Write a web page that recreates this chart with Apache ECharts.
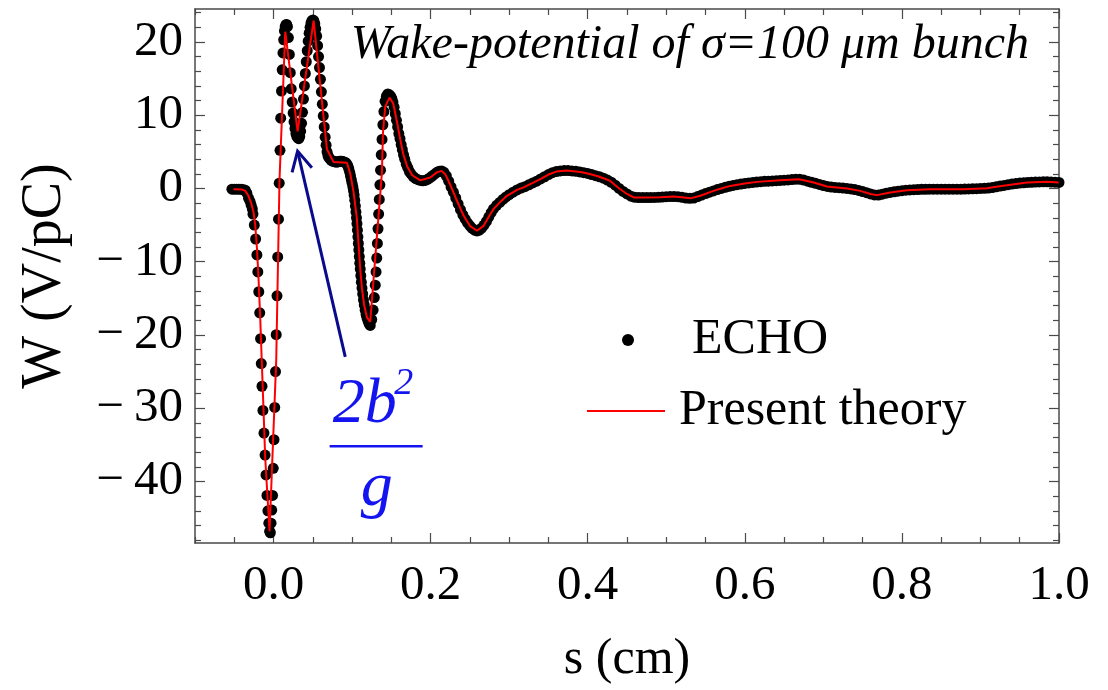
<!DOCTYPE html>
<html>
<head>
<meta charset="utf-8">
<script src="https://cdn.jsdelivr.net/npm/echarts@6/dist/echarts.min.js"></script>
<style>
html,body{margin:0;padding:0;background:#fff;}
#chart{width:1108px;height:690px;}
</style>
</head>
<body>
<div id="chart"></div>
<script>
// ---------- DATA ----------
const xMajorTicks = [0, 0.2, 0.4, 0.6, 0.8, 1.0];
const yMajorTicks = [-40, -30, -20, -10, 0, 10, 20];

// ECHO simulation points [s (cm), W (V/pC)]
const echoDrop = [
  [-0.053,-0.1],[-0.050,-0.1],[-0.047,-0.1],[-0.044,-0.1],[-0.041,-0.12],[-0.038,-0.18],
  [-0.036,-0.23],[-0.034,-0.64],[-0.0318,-1.32],[-0.030,-1.75],[-0.0285,-2.27],[-0.027,-2.8],
  [-0.0262,-3.49],[-0.0245,-4.99],[-0.0228,-6.9],[-0.0212,-9.07],[-0.0200,-11.39],[-0.0188,-14.1],
  [-0.0176,-16.97],[-0.0165,-20.5],[-0.0156,-23.9],[-0.0147,-27.0],[-0.0135,-30.3],[-0.0122,-33.4],
  [-0.0108,-36.4],[-0.0096,-39.1],[-0.0084,-41.9],[-0.0072,-44.0],[-0.0060,-45.7],[-0.0050,-46.8],
  [-0.0041,-47.0]
];
const echoDoublePeak = [
  [-0.0032,-45.7],[-0.0023,-43.9],[-0.0013,-41.9],[-0.0004,-38.2],[0.0006,-34.3],[0.0015,-29.9],
  [0.0025,-25.0],[0.0034,-19.96],[0.0044,-14.65],[0.0053,-9.35],[0.0063,-4.2],[0.0072,0.72],
  [0.0082,5.2],[0.0091,9.6],[0.0101,13.3],[0.0110,16.2],[0.0120,18.5],[0.0129,20.3],[0.0139,21.5],
  [0.0148,22.1],[0.0158,22.35],[0.0167,22.4],
  [0.0177,22.1],[0.0189,20.6],[0.0201,18.3],[0.0213,15.8],[0.0225,13.6],[0.0237,11.8],[0.0249,10.3],
  [0.0261,9.1],[0.0273,8.2],[0.0285,7.5],[0.0297,7.1],[0.0309,6.9],[0.0321,6.8],[0.0333,7.1],
  [0.0345,7.8],[0.0357,8.9],[0.0369,10.4],[0.0381,12.2],[0.0393,14.0],[0.0405,15.7],[0.0417,17.3],
  [0.0429,18.8],[0.0441,20.1],[0.0453,21.2],[0.0465,22.0],[0.0477,22.6],[0.0489,22.9],[0.0501,23.0],
  [0.0513,22.9],[0.0525,22.5],[0.0537,21.8],[0.0549,20.8],[0.0561,19.5],[0.0573,18.0],[0.0585,16.5],
  [0.0597,14.9],[0.0609,13.2],[0.0621,11.5],[0.0633,9.9],[0.0645,8.4],[0.0657,7.0],[0.0669,5.9],
  [0.0681,5.0],[0.0693,4.5],[0.0705,4.2],[0.0720,4.0],[0.0735,3.85],[0.0750,3.75],[0.0765,3.7],
  [0.0780,3.65],[0.0795,3.6],[0.0810,3.6],[0.0825,3.65],[0.0840,3.7],[0.0855,3.7],[0.0870,3.7],
  [0.0885,3.65],[0.0900,3.6],[0.0915,3.55],[0.0930,3.4],[0.0945,3.1],[0.0958,2.7],[0.0970,2.2],
  [0.0980,1.7],[0.0990,1.2],[0.1000,0.7],[0.1010,0.2],[0.1018,-0.3]
];
const echoValley = [
  [0.1026,-0.9],[0.1034,-1.6],[0.1042,-2.4],[0.1049,-3.2],[0.1056,-4.0],[0.1062,-4.8],[0.1068,-5.7],
  [0.1074,-6.6],[0.1080,-7.5],[0.1086,-8.4],[0.1092,-9.3],[0.1098,-10.2],[0.1104,-11.0],[0.1111,-11.9],
  [0.1118,-12.8],[0.1126,-13.6],[0.1135,-14.4],[0.1145,-15.2],[0.1155,-15.9],[0.1166,-16.6],
  [0.1178,-17.2],[0.1190,-17.7],[0.1203,-18.1],[0.1217,-18.5],[0.1231,-18.7],
  [0.1250,-17.9],[0.1268,-16.6],[0.1283,-14.9],[0.1295,-13.2],[0.1305,-11.4],[0.1314,-9.5],
  [0.1322,-7.5],[0.1330,-5.5],[0.1338,-3.5],[0.1346,-1.5],[0.1354,0.5],[0.1362,2.5],[0.1371,4.6],
  [0.1381,6.7],[0.1392,8.7],[0.1405,10.5],[0.1420,11.9],[0.1437,12.6],[0.1455,12.9],[0.1473,12.8]
];
const echoTail = [
  [0.149,12.6],[0.1505,12.3],[0.152,11.8],[0.1535,11.1],[0.155,10.2],[0.1565,9.3],[0.158,8.4],
  [0.1595,7.5],[0.161,6.8],[0.1625,6.0],[0.164,5.3],[0.1655,4.6],[0.167,4.0],[0.169,3.3],[0.171,2.8],
  [0.173,2.3],[0.175,2.0],[0.178,1.6],[0.181,1.35],[0.184,1.2],[0.187,1.1],[0.190,1.05],[0.193,1.1],
  [0.196,1.25],[0.199,1.45],[0.202,1.7],[0.205,1.95],[0.208,2.2],[0.211,2.35],[0.214,2.4],[0.217,2.2],
  [0.220,1.7],[0.223,1.0],[0.226,0.2],[0.229,-0.5],[0.232,-1.3],[0.235,-2.1],[0.238,-2.9],[0.241,-3.6],
  [0.244,-4.2],[0.247,-4.7],[0.250,-5.1],[0.253,-5.45],[0.256,-5.7],[0.259,-5.8],[0.262,-5.7],
  [0.265,-5.4],[0.268,-5.0],[0.271,-4.5],[0.274,-3.9],[0.277,-3.3],[0.280,-2.8],[0.284,-2.3],
  [0.288,-1.9],[0.292,-1.5],[0.296,-1.15],[0.300,-0.85],[0.305,-0.5],[0.310,-0.2],[0.315,0.05],
  [0.320,0.25],[0.325,0.5],[0.330,0.75],[0.335,1.0],[0.340,1.3],[0.345,1.6],[0.350,1.9],[0.355,2.15],
  [0.360,2.3],[0.365,2.4],[0.370,2.45],[0.375,2.45],[0.380,2.4],[0.385,2.35],[0.390,2.25],[0.395,2.15],
  [0.400,2.05],[0.405,1.9],[0.410,1.75],[0.415,1.6],[0.420,1.4],[0.425,1.15],[0.430,0.85],[0.435,0.45],
  [0.440,0.0],[0.445,-0.4],[0.450,-0.75],[0.455,-1.05],[0.460,-1.2],[0.465,-1.25],[0.470,-1.25],
  [0.475,-1.25],[0.480,-1.25],[0.485,-1.22],[0.490,-1.2],[0.495,-1.17],[0.500,-1.12],[0.505,-1.1],
  [0.510,-1.1],[0.515,-1.12],[0.520,-1.2],[0.525,-1.3],[0.530,-1.35],[0.535,-1.3],[0.540,-1.1],
  [0.545,-0.9],[0.550,-0.7],[0.555,-0.5],[0.560,-0.33],[0.565,-0.15],[0.570,0.0],[0.575,0.15],
  [0.580,0.3],[0.585,0.42],[0.590,0.52],[0.595,0.6],[0.600,0.68],[0.605,0.75],[0.610,0.82],[0.615,0.88],
  [0.620,0.93],[0.625,0.97],[0.630,1.0],[0.635,1.03],[0.640,1.07],[0.645,1.1],[0.650,1.13],[0.655,1.17],
  [0.660,1.22],[0.665,1.27],[0.670,1.25],[0.675,1.15],[0.680,1.0],[0.685,0.85],[0.690,0.7],[0.695,0.55],
  [0.700,0.4],[0.705,0.28],[0.710,0.2],[0.715,0.14],[0.720,0.1],[0.725,0.06],[0.730,0.0],[0.735,-0.07],
  [0.740,-0.15],[0.745,-0.27],[0.750,-0.42],[0.755,-0.58],[0.760,-0.75],[0.765,-0.88],[0.770,-0.9],
  [0.775,-0.78],[0.780,-0.65],[0.785,-0.54],[0.790,-0.45],[0.795,-0.37],[0.800,-0.3],[0.805,-0.24],
  [0.810,-0.2],[0.815,-0.17],[0.820,-0.14],[0.825,-0.12],[0.830,-0.11],[0.835,-0.1],[0.840,-0.1],
  [0.845,-0.1],[0.850,-0.1],[0.855,-0.1],[0.860,-0.1],[0.865,-0.1],[0.870,-0.1],[0.875,-0.1],
  [0.880,-0.09],[0.885,-0.07],[0.890,-0.05],[0.895,-0.03],[0.900,0.0],[0.905,0.02],[0.910,0.06],
  [0.915,0.13],[0.920,0.22],[0.925,0.32],[0.930,0.42],[0.935,0.52],[0.940,0.6],[0.945,0.67],
  [0.950,0.73],[0.955,0.78],[0.960,0.82],[0.965,0.85],[0.970,0.87],[0.975,0.89],[0.980,0.9],
  [0.985,0.9],[0.990,0.88],[0.995,0.86],[1.000,0.82]
];

// Present theory curve [s (cm), W (V/pC)]
const theoryPoints = [
  [-0.051,-0.1],[-0.040,-0.15],[-0.036,-0.33],[-0.032,-1.0],[-0.0285,-2.0],[-0.0255,-3.2],
  [-0.0233,-5.0],[-0.0211,-8.2],[-0.0191,-12.3],[-0.0169,-17.8],[-0.0148,-24.1],[-0.0106,-36.8],
  [-0.0051,-46.8],[0.0034,-23.5],[0.0076,1.2],[0.0149,21.4],[0.0170,21.4],[0.0306,7.8],[0.0510,22.9],
  [0.0680,5.35],[0.0764,3.6],[0.0934,3.5],[0.0977,2.0],[0.1019,-0.5],[0.1062,-4.2],[0.1082,-7.6],
  [0.1104,-11.0],[0.1126,-13.7],[0.1155,-16.0],[0.1189,-17.6],[0.1231,-18.2],[0.1380,2.2],
  [0.1393,7.6],[0.1422,11.2],[0.1477,12.4],[0.1524,11.6],[0.1575,8.9],[0.1613,6.7],[0.1651,4.7],
  [0.1702,3.0],[0.1766,1.8],[0.1868,1.1],[0.1995,1.5],[0.2080,2.2],[0.2140,2.4],[0.2186,1.95],
  [0.2250,0.5],[0.2320,-1.3],[0.2419,-3.7],[0.2500,-5.1],[0.2590,-5.77],[0.2674,-5.1],[0.2750,-3.7],
  [0.2801,-2.8],[0.2900,-1.7],[0.2972,-1.0],[0.3100,-0.2],[0.3183,0.14],[0.3300,0.75],[0.3396,1.27],
  [0.3500,1.9],[0.3600,2.3],[0.3736,2.45],[0.3905,2.26],[0.4000,2.05],[0.4118,1.7],[0.4200,1.4],
  [0.4287,1.03],[0.4350,0.45],[0.4414,-0.1],[0.4500,-0.75],[0.4584,-1.22],[0.4711,-1.25],
  [0.4924,-1.2],[0.5093,-1.09],[0.5200,-1.2],[0.5306,-1.35],[0.5433,-1.0],[0.5602,-0.33],[0.5700,0.0],
  [0.5815,0.35],[0.6000,0.68],[0.6155,0.9],[0.6451,1.13],[0.6685,1.27],[0.6780,1.05],[0.6876,0.82],
  [0.7046,0.27],[0.7301,0.0],[0.7470,-0.33],[0.7600,-0.75],[0.7683,-0.91],[0.7852,-0.54],
  [0.8065,-0.23],[0.8361,-0.1],[0.8785,-0.1],[0.9083,0.04],[0.9200,0.22],[0.9338,0.45],[0.9593,0.82],
  [0.9847,0.9],[0.9995,0.82]
];

// annotation anchors in data space
const arrowTail = [0.0913, -23.0];
const arrowTip = [0.0306, 5.1];
const fractionAnchor = [0.130, -35.2];

// ---------- CHART ----------
const FONT = '"Liberation Serif", "DejaVu Serif", serif';
const FRAME = '#4a4a4a';
const TICK_FS = 49;

function minorTicks(lo, hi, step, majors) {
  const out = [];
  for (let v = lo; v <= hi + 1e-9; v += step) {
    const r = Math.round(v * 1000) / 1000;
    if (!majors.some(m => Math.abs(m - r) < 1e-6)) out.push(r);
  }
  return out;
}
const xMinorTicks = minorTicks(-0.1, 1.0, 0.05, xMajorTicks);
const yMinorTicks = minorTicks(-48, 24, 2, yMajorTicks);

const X_MIN = -0.1, X_MAX = 1.0, Y_MIN = -48.4, Y_MAX = 24.5;

function xAx(pos, ticks, len, withLabel, showLine) {
  return {
    type: 'value', position: pos, min: X_MIN, max: X_MAX,
    axisLine: {show: showLine, onZero: false, lineStyle: {color: FRAME, width: 1.5}},
    axisTick: {show: true, inside: true, length: len, customValues: ticks, lineStyle: {color: FRAME, width: 1.2}},
    axisLabel: withLabel ? {show: true, customValues: xMajorTicks, formatter: v => Number(v).toFixed(1),
      fontFamily: FONT, fontSize: TICK_FS, color: '#000', margin: 19} : {show: false},
    splitLine: {show: false}
  };
}
function yAx(pos, ticks, len, withLabel, showLine) {
  return {
    type: 'value', position: pos, min: Y_MIN, max: Y_MAX,
    axisLine: {show: showLine, onZero: false, lineStyle: {color: FRAME, width: 1.5}},
    axisTick: {show: true, inside: true, length: len, customValues: ticks, lineStyle: {color: FRAME, width: 1.2}},
    axisLabel: withLabel ? {show: true, customValues: yMajorTicks,
      formatter: v => (v < 0 ? '\u2212\u2009' + Math.abs(v) : String(v)),
      fontFamily: FONT, fontSize: TICK_FS, color: '#000', margin: 12} : {show: false},
    splitLine: {show: false}
  };
}

const xAxes = [
  xAx('bottom', xMajorTicks, 10, true, true),
  xAx('bottom', xMinorTicks, 6, false, false),
  xAx('top', xMajorTicks, 10, false, true),
  xAx('top', xMinorTicks, 6, false, false)
];
xAxes[0].name = 's (cm)';
xAxes[0].nameLocation = 'middle';
xAxes[0].nameGap = 92;
xAxes[0].nameTextStyle = {fontFamily: FONT, fontSize: 50, color: '#000'};

const yAxes = [
  yAx('left', yMajorTicks, 10, true, true),
  yAx('left', yMinorTicks, 6, false, false),
  yAx('right', yMajorTicks, 10, false, true),
  yAx('right', yMinorTicks, 6, false, false)
];
yAxes[0].name = 'W (V/pC)';
yAxes[0].nameLocation = 'middle';
yAxes[0].nameRotate = 90;
yAxes[0].nameGap = 122;
yAxes[0].nameTextStyle = {fontFamily: FONT, fontSize: 56, color: '#000'};

const chart = echarts.init(document.getElementById('chart'), null, {renderer: 'canvas'});
const option = {
  animation: false,
  backgroundColor: '#fff',
  grid: {left: 195, right: 49, top: 9, bottom: 145, containLabel: false},
  title: {
    text: 'Wake-potential of \u03C3=100 \u03BCm bunch',
    right: 74, top: 16,
    textStyle: {fontFamily: FONT, fontStyle: 'italic', fontWeight: 'normal', fontSize: 48, color: '#000'}
  },
  legend: [
    {
      data: [{name: 'ECHO', icon: 'circle'}],
      left: 622, top: 315, padding: 0, itemWidth: 12, itemHeight: 12,
      textStyle: {fontFamily: FONT, fontSize: 50, color: '#000', padding: [0, 0, 0, 53]},
      selectedMode: false
    },
    {
      data: [{name: 'Present theory', icon: 'rect'}],
      left: 587, top: 386, padding: 0, itemWidth: 78, itemHeight: 2,
      itemStyle: {color: '#ff0000'},
      textStyle: {fontFamily: FONT, fontSize: 50, color: '#000', padding: [0, 0, 0, 9]},
      selectedMode: false
    }
  ],
  xAxis: xAxes,
  yAxis: yAxes,
  series: [
    {
      name: 'ECHO', type: 'scatter', xAxisIndex: 0, yAxisIndex: 0,
      data: echoDrop.concat(echoDoublePeak, echoValley, echoTail),
      symbol: 'circle', symbolSize: 11,
      itemStyle: {color: '#000', opacity: 1}, z: 2, silent: true
    },
    {
      name: 'Present theory', type: 'line', xAxisIndex: 0, yAxisIndex: 0,
      data: theoryPoints, showSymbol: false, symbol: 'none',
      lineStyle: {color: '#ff0000', width: 2}, itemStyle: {color: '#ff0000'}, z: 3, silent: true
    }
  ]
};
chart.setOption(option);

// ----- annotation (arrow + 2b^2/g), anchored to data coordinates -----
const conv = p => chart.convertToPixel({xAxisIndex: 0, yAxisIndex: 0}, p);
const tail = conv(arrowTail), tip = conv(arrowTip), fa = conv(fractionAnchor);
const dx = tail[0] - tip[0], dy = tail[1] - tip[1];
const L = Math.hypot(dx, dy), ux = dx / L, uy = dy / L;
function rot(a) { const c = Math.cos(a), s = Math.sin(a); return [ux * c - uy * s, ux * s + uy * c]; }
const w1 = rot(0.48), w2 = rot(-0.48), WL = 22;
const ARROW = '#0a0a8c', BLUE = '#1414f0';
chart.setOption({
  graphic: [
    {type: 'line', shape: {x1: tail[0], y1: tail[1], x2: tip[0], y2: tip[1]},
     style: {stroke: ARROW, lineWidth: 3}, z: 10},
    {type: 'polyline', shape: {points: [[tip[0] + w1[0] * WL, tip[1] + w1[1] * WL], tip, [tip[0] + w2[0] * WL, tip[1] + w2[1] * WL]]},
     style: {stroke: ARROW, lineWidth: 3, fill: null}, z: 10},
    {type: 'text', x: fa[0] - 11, y: fa[1] - 41,
     style: {text: '2b', font: 'italic 64px ' + FONT, fill: BLUE, align: 'center', verticalAlign: 'middle'}, z: 10},
    {type: 'text', x: fa[0] + 28, y: fa[1] - 62,
     style: {text: '2', font: 'italic 38px ' + FONT, fill: BLUE, align: 'center', verticalAlign: 'middle'}, z: 10},
    {type: 'line', shape: {x1: fa[0] - 46, y1: fa[1], x2: fa[0] + 47, y2: fa[1]},
     style: {stroke: BLUE, lineWidth: 2.5}, z: 10},
    {type: 'text', x: fa[0] + 1, y: fa[1] + 42,
     style: {text: 'g', font: 'italic 64px ' + FONT, fill: BLUE, align: 'center', verticalAlign: 'middle'}, z: 10}
  ]
});
</script>
</body>
</html>
